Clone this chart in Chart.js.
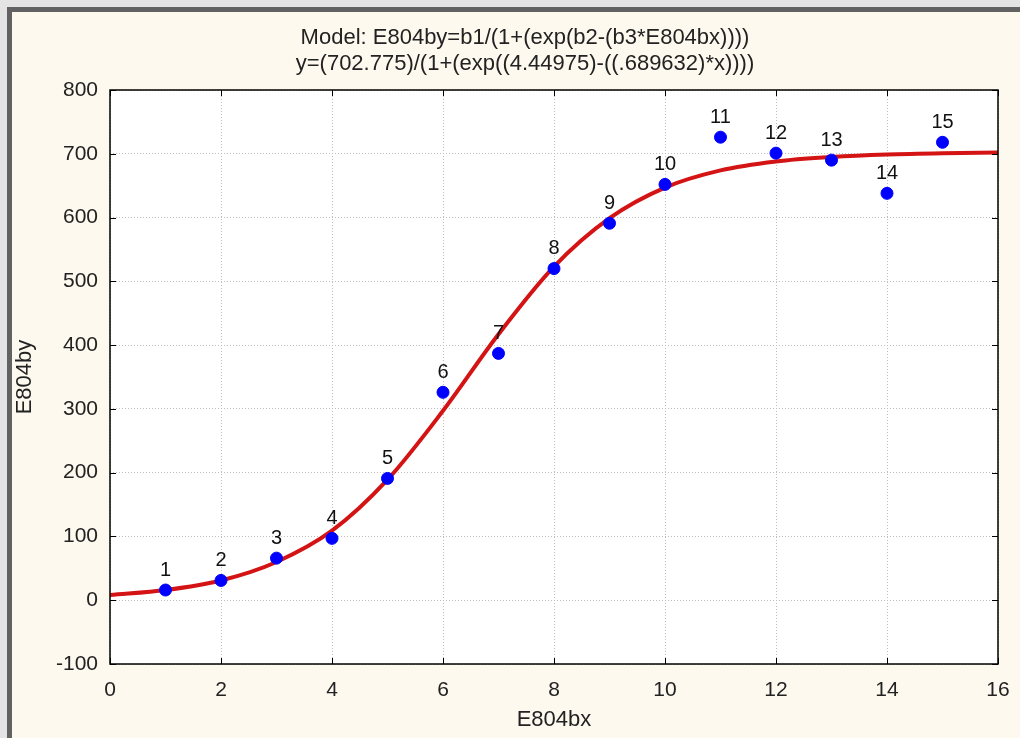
<!DOCTYPE html>
<html>
<head>
<meta charset="utf-8">
<title>E804by logistic fit</title>
<script src="https://cdn.jsdelivr.net/npm/chart.js@4.4.1/dist/chart.umd.min.js"></script>
<style>
    html, body { margin: 0; padding: 0; }
    body { width: 1020px; height: 738px; background: #e4e4e4; overflow: hidden; position: relative; }
    .frame {
        position: absolute; left: 7px; top: 7px; right: 0; bottom: 0;
        border-left: 5px solid #626262; border-top: 5px solid #626262;
        background: #fdf9ef;
    }
    .chart-box { position: absolute; left: 0; top: 0; width: 1008px; height: 726px; }
</style>
</head>
<body>
<div class="frame">
    <div class="chart-box">
        <canvas id="fitChart"></canvas>
    </div>
</div>
<script>
// observed cases
const caseNumbers = ['1', '2', '3', '4', '5', '6', '7', '8', '9', '10', '11', '12', '13', '14', '15'];
const obsX = [1, 2, 3, 4, 5, 6, 7, 8, 9, 10, 11, 12, 13, 14, 15];
const obsY = [16, 31, 66, 97, 191, 326, 387, 520, 591, 652, 726, 701, 690, 638, 718];

// fitted curve
const fitX = [0, 1, 2, 3, 4, 5, 6, 7, 8, 9, 10, 11, 12, 13, 14, 15, 16];
const fitY = [8, 16, 31, 60, 109, 189, 297, 417, 523, 599, 647, 674, 688, 695, 699, 701, 702];

// axes
const xTicks = [0, 2, 4, 6, 8, 10, 12, 14, 16];
const yTicks = [-100, 0, 100, 200, 300, 400, 500, 600, 700, 800];

const titleLines = [
    'Model: E804by=b1/(1+(exp(b2-(b3*E804bx))))',
    'y=(702.775)/(1+(exp((4.44975)-((.689632)*x))))'
];

const FONT = "'Liberation Sans', Arial, sans-serif";

const plotBackground = {
    id: 'plotBackground',
    beforeDraw(chart) {
        const { ctx, chartArea: a } = chart;
        ctx.save();
        ctx.fillStyle = '#ffffff';
        ctx.fillRect(a.left, a.top, a.right - a.left, a.bottom - a.top);
        ctx.restore();
    }
};

const plotFrame = {
    id: 'plotFrame',
    afterDraw(chart) {
        const { ctx, chartArea: a, scales } = chart;
        ctx.save();
        ctx.strokeStyle = '#000000';
        ctx.lineWidth = 1.5;
        ctx.strokeRect(a.left, a.top, a.right - a.left, a.bottom - a.top);
        // short inward tick marks
        ctx.lineWidth = 1;
        xTicks.forEach(v => {
            const px = Math.round(scales.x.getPixelForValue(v)) + 0.5;
            ctx.beginPath();
            ctx.moveTo(px, a.bottom); ctx.lineTo(px, a.bottom - 6);
            ctx.moveTo(px, a.top); ctx.lineTo(px, a.top + 6);
            ctx.stroke();
        });
        yTicks.forEach(v => {
            const py = Math.round(scales.y.getPixelForValue(v)) + 0.5;
            ctx.beginPath();
            ctx.moveTo(a.left, py); ctx.lineTo(a.left + 6, py);
            ctx.moveTo(a.right, py); ctx.lineTo(a.right - 6, py);
            ctx.stroke();
        });
        ctx.restore();
    }
};

const pointNumbers = {
    id: 'pointNumbers',
    afterDatasetsDraw(chart) {
        const { ctx } = chart;
        const meta = chart.getDatasetMeta(1);
        ctx.save();
        ctx.font = '20px ' + FONT;
        ctx.fillStyle = '#111111';
        ctx.textAlign = 'center';
        ctx.textBaseline = 'middle';
        meta.data.forEach((pt, i) => {
            ctx.fillText(caseNumbers[i], pt.x, pt.y - 20);
        });
        ctx.restore();
    }
};

const header = {
    id: 'header',
    afterDraw(chart) {
        const { ctx } = chart;
        ctx.save();
        ctx.font = '22px ' + FONT;
        ctx.fillStyle = '#222222';
        ctx.textAlign = 'center';
        ctx.textBaseline = 'middle';
        ctx.fillText(titleLines[0], 513, 26);
        ctx.fillText(titleLines[1], 513, 52);
        ctx.restore();
    }
};

new Chart(document.getElementById('fitChart').getContext('2d'), {
    type: 'scatter',
    data: {
        datasets: [
            {
                type: 'line',
                label: 'fit',
                data: fitX.map((x, i) => ({ x: x, y: fitY[i] })),
                borderColor: '#d41414',
                borderWidth: 4,
                pointRadius: 0,
                cubicInterpolationMode: 'monotone',
                fill: false,
                order: 2
            },
            {
                label: 'E804by',
                data: obsX.map((x, i) => ({ x: x, y: obsY[i] })),
                backgroundColor: '#0000ff',
                borderColor: '#0000ff',
                pointRadius: 6,
                pointHoverRadius: 6,
                order: 1
            }
        ]
    },
    options: {
        responsive: true,
        maintainAspectRatio: false,
        animation: false,
        layout: { padding: { top: 78, right: 22, left: 0, bottom: 0 } },
        plugins: {
            legend: { display: false },
            tooltip: { enabled: false },
            title: { display: false }
        },
        scales: {
            x: {
                type: 'linear',
                min: 0,
                max: 16,
                afterBuildTicks: scale => { scale.ticks = xTicks.map(v => ({ value: v })); },
                afterFit: scale => {
                    scale.height = 74;
                    scale.paddingLeft = 0;
                    scale.paddingRight = 0;
                },
                grid: { color: '#bdbdbd', drawTicks: false },
                border: { display: false, dash: [1, 2] },
                ticks: { color: '#222222', padding: 14, font: { family: FONT, size: 21 } },
                title: {
                    display: true,
                    text: 'E804bx',
                    color: '#222222',
                    font: { family: FONT, size: 22 },
                    padding: { top: 0, bottom: 5 }
                }
            },
            y: {
                type: 'linear',
                min: -100,
                max: 800,
                afterBuildTicks: scale => { scale.ticks = yTicks.map(v => ({ value: v })); },
                afterFit: scale => { scale.width = 98; },
                grid: { color: '#bdbdbd', drawTicks: false },
                border: { display: false, dash: [1, 2] },
                ticks: { color: '#222222', padding: 12, font: { family: FONT, size: 21 } },
                title: {
                    display: true,
                    text: 'E804by',
                    color: '#222222',
                    font: { family: FONT, size: 22 },
                    padding: { top: 0, bottom: 0 }
                }
            }
        }
    },
    plugins: [plotBackground, plotFrame, pointNumbers, header]
});
</script>
</body>
</html>
